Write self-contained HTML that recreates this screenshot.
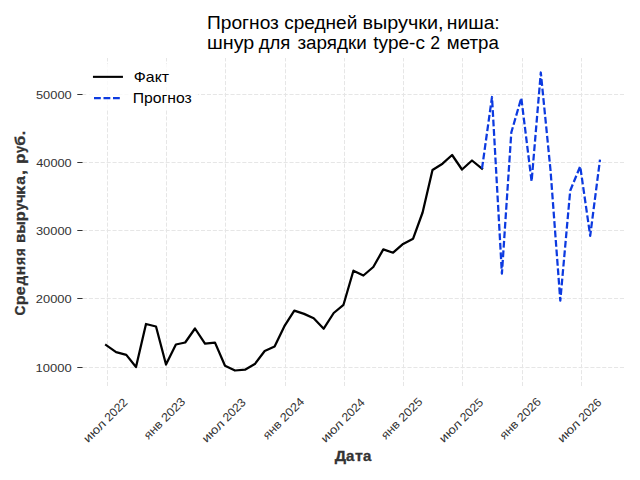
<!DOCTYPE html>
<html><head><meta charset="utf-8"><title>chart</title>
<style>
html,body{margin:0;padding:0;background:#fff;}
body{width:640px;height:480px;overflow:hidden;font-family:"Liberation Sans",sans-serif;}
svg{display:block;}
text{font-family:"Liberation Sans",sans-serif;}
.g{stroke:#e6e6e6;stroke-width:1;stroke-dasharray:4.1 1.8;fill:none;}
.tk{stroke:#333;stroke-width:1;}
.tl{font-size:11.8px;fill:#333;}
.ax{font-size:14px;font-weight:bold;fill:#333;stroke:#333;stroke-width:0.3px;}
.ti{font-size:17.6px;fill:#000;}
.lg{font-size:14.1px;fill:#000;}
</style></head><body>
<svg width="640" height="480" viewBox="0 0 640 480">
<rect width="640" height="480" fill="#fff"/>

<line class="g" x1="107.5" y1="386.0" x2="107.5" y2="58.0"/>
<line class="g" x1="166.5" y1="386.0" x2="166.5" y2="58.0"/>
<line class="g" x1="225.5" y1="386.0" x2="225.5" y2="58.0"/>
<line class="g" x1="285.5" y1="386.0" x2="285.5" y2="58.0"/>
<line class="g" x1="344.5" y1="386.0" x2="344.5" y2="58.0"/>
<line class="g" x1="403.5" y1="386.0" x2="403.5" y2="58.0"/>
<line class="g" x1="462.5" y1="386.0" x2="462.5" y2="58.0"/>
<line class="g" x1="522.5" y1="386.0" x2="522.5" y2="58.0"/>
<line class="g" x1="581.5" y1="386.0" x2="581.5" y2="58.0"/>
<line class="g" x1="83.0" y1="94.5" x2="624.4" y2="94.5"/>
<line class="g" x1="83.0" y1="162.5" x2="624.4" y2="162.5"/>
<line class="g" x1="83.0" y1="230.5" x2="624.4" y2="230.5"/>
<line class="g" x1="83.0" y1="298.5" x2="624.4" y2="298.5"/>
<line class="g" x1="83.0" y1="367.5" x2="624.4" y2="367.5"/>
<line class="tk" x1="77.3" y1="94.5" x2="82.6" y2="94.5"/>
<text class="tl" x="35.96" y="98.6" textLength="35.72" lengthAdjust="spacingAndGlyphs">50000</text>
<line class="tk" x1="77.3" y1="162.5" x2="82.6" y2="162.5"/>
<text class="tl" x="36.23" y="166.8" textLength="35.44" lengthAdjust="spacingAndGlyphs">40000</text>
<line class="tk" x1="77.3" y1="230.5" x2="82.6" y2="230.5"/>
<text class="tl" x="35.96" y="234.7" textLength="35.72" lengthAdjust="spacingAndGlyphs">30000</text>
<line class="tk" x1="77.3" y1="298.5" x2="82.6" y2="298.5"/>
<text class="tl" x="35.82" y="302.7" textLength="35.86" lengthAdjust="spacingAndGlyphs">20000</text>
<line class="tk" x1="77.3" y1="367.5" x2="82.6" y2="367.5"/>
<text class="tl" x="35.54" y="371.6" textLength="36.15" lengthAdjust="spacingAndGlyphs">10000</text>
<polyline points="106.1,345.1 116.1,352.2 126.3,354.9 136.0,367.0 146.0,324.0 156.0,326.5 166.0,364.5 175.9,344.5 185.2,342.5 195.0,328.5 205.0,343.7 215.0,342.6 225.0,365.7 235.0,370.5 245.0,369.7 254.8,364.1 264.7,351.0 274.6,346.5 284.4,326.2 294.3,310.6 304.1,313.9 313.7,318.2 323.7,328.7 333.7,313.0 343.5,304.8 353.4,270.7 363.4,275.5 373.3,267.0 383.3,249.4 393.1,252.7 403.1,243.9 413.1,238.7 422.6,212.5 432.5,170.0 442.5,163.7 452.1,155.0 462.0,169.5 472.0,160.5 482.0,168.7" fill="none" stroke="#000" stroke-width="2.25" stroke-linejoin="round" stroke-linecap="square"/>
<polyline points="482.0,168.7 492.0,97.0 501.9,273.7 511.3,132.5 521.3,98.0 531.6,181.5 540.8,72.5 550.5,170.0 560.3,300.6 570.2,190.7 580.2,166.3 590.2,235.8 600.0,159.6" fill="none" stroke="#0c3ae0" stroke-width="2.25" stroke-linejoin="round" stroke-dasharray="6.8 2.7"/>
<rect x="86" y="64" width="112" height="46" fill="#fff" fill-opacity="0.8"/>
<line x1="94.0" y1="76.85" x2="121.9" y2="76.85" stroke="#000" stroke-width="2.1" stroke-linecap="square"/>
<line x1="94.0" y1="98.0" x2="121.8" y2="98.0" stroke="#0c3ae0" stroke-width="2.25" stroke-dasharray="6.8 2.7"/>
<text class="lg" x="133.82" y="82.0" textLength="35.23" lengthAdjust="spacingAndGlyphs">Факт</text>
<text class="lg" x="132.74" y="102.8" textLength="59.01" lengthAdjust="spacingAndGlyphs">Прогноз</text>
<g class="tl" transform="translate(105.3,420.3) rotate(-45)">
<text x="-28.46" y="4.1" textLength="26.55" lengthAdjust="spacingAndGlyphs">июл</text>
<text x="1.34" y="4.1" textLength="26.98" lengthAdjust="spacingAndGlyphs">2022</text>
</g>
<g class="tl" transform="translate(164.1,418.6) rotate(-45)">
<text x="-26.20" y="4.1" textLength="21.17" lengthAdjust="spacingAndGlyphs">янв</text>
<text x="-1.57" y="4.1" textLength="28.57" lengthAdjust="spacingAndGlyphs">2023</text>
</g>
<g class="tl" transform="translate(223.7,420.3) rotate(-45)">
<text x="-28.46" y="4.1" textLength="26.55" lengthAdjust="spacingAndGlyphs">июл</text>
<text x="1.34" y="4.1" textLength="26.98" lengthAdjust="spacingAndGlyphs">2023</text>
</g>
<g class="tl" transform="translate(283.0,418.6) rotate(-45)">
<text x="-26.20" y="4.1" textLength="21.17" lengthAdjust="spacingAndGlyphs">янв</text>
<text x="-1.57" y="4.1" textLength="28.57" lengthAdjust="spacingAndGlyphs">2024</text>
</g>
<g class="tl" transform="translate(342.6,420.3) rotate(-45)">
<text x="-28.46" y="4.1" textLength="26.55" lengthAdjust="spacingAndGlyphs">июл</text>
<text x="1.34" y="4.1" textLength="26.99" lengthAdjust="spacingAndGlyphs">2024</text>
</g>
<g class="tl" transform="translate(401.4,418.6) rotate(-45)">
<text x="-26.20" y="4.1" textLength="21.17" lengthAdjust="spacingAndGlyphs">янв</text>
<text x="-1.57" y="4.1" textLength="28.57" lengthAdjust="spacingAndGlyphs">2025</text>
</g>
<g class="tl" transform="translate(461.0,420.3) rotate(-45)">
<text x="-28.46" y="4.1" textLength="26.55" lengthAdjust="spacingAndGlyphs">июл</text>
<text x="1.34" y="4.1" textLength="26.98" lengthAdjust="spacingAndGlyphs">2025</text>
</g>
<g class="tl" transform="translate(519.9,418.6) rotate(-45)">
<text x="-26.20" y="4.1" textLength="21.17" lengthAdjust="spacingAndGlyphs">янв</text>
<text x="-1.57" y="4.1" textLength="28.57" lengthAdjust="spacingAndGlyphs">2026</text>
</g>
<g class="tl" transform="translate(579.4,420.3) rotate(-45)">
<text x="-28.46" y="4.1" textLength="26.55" lengthAdjust="spacingAndGlyphs">июл</text>
<text x="1.34" y="4.1" textLength="26.98" lengthAdjust="spacingAndGlyphs">2026</text>
</g>
<text class="ti" x="207.00" y="28.8" textLength="71.90" lengthAdjust="spacingAndGlyphs">Прогноз</text>
<text class="ti" x="284.19" y="28.8" textLength="73.11" lengthAdjust="spacingAndGlyphs">средней</text>
<text class="ti" x="362.59" y="28.8" textLength="81.00" lengthAdjust="spacingAndGlyphs">выручки,</text>
<text class="ti" x="446.83" y="28.8" textLength="52.91" lengthAdjust="spacingAndGlyphs">ниша:</text>
<text class="ti" x="207.10" y="49.3" textLength="47.20" lengthAdjust="spacingAndGlyphs">шнур</text>
<text class="ti" x="258.67" y="49.3" textLength="31.58" lengthAdjust="spacingAndGlyphs">для</text>
<text class="ti" x="297.46" y="49.3" textLength="69.39" lengthAdjust="spacingAndGlyphs">зарядки</text>
<text class="ti" x="373.23" y="49.3" textLength="51.73" lengthAdjust="spacingAndGlyphs">type-c</text>
<text class="ti" x="430.32" y="49.3" textLength="9.80" lengthAdjust="spacingAndGlyphs">2</text>
<text class="ti" x="446.87" y="49.3" textLength="51.99" lengthAdjust="spacingAndGlyphs">метра</text>
<text class="ax" x="334.80" y="461.4" textLength="11.32" lengthAdjust="spacingAndGlyphs">Д</text>
<text class="ax" x="345.93" y="461.4" textLength="8.35" lengthAdjust="spacingAndGlyphs">а</text>
<text class="ax" x="354.91" y="461.4" textLength="7.85" lengthAdjust="spacingAndGlyphs">т</text>
<text class="ax" x="362.93" y="461.4" textLength="8.35" lengthAdjust="spacingAndGlyphs">а</text>
<g transform="translate(24.8,0) rotate(-90)" class="ax">
<text x="-315.62" y="0" textLength="9.97" lengthAdjust="spacingAndGlyphs">С</text>
<text x="-305.36" y="0" textLength="9.87" lengthAdjust="spacingAndGlyphs">р</text>
<text x="-295.54" y="0" textLength="9.25" lengthAdjust="spacingAndGlyphs">е</text>
<text x="-285.25" y="0" textLength="9.50" lengthAdjust="spacingAndGlyphs">д</text>
<text x="-275.37" y="0" textLength="9.41" lengthAdjust="spacingAndGlyphs">н</text>
<text x="-265.00" y="0" textLength="8.04" lengthAdjust="spacingAndGlyphs">я</text>
<text x="-255.92" y="0" textLength="7.56" lengthAdjust="spacingAndGlyphs">я</text>
<text x="-242.94" y="0" textLength="9.22" lengthAdjust="spacingAndGlyphs">в</text>
<text x="-233.60" y="0" textLength="12.26" lengthAdjust="spacingAndGlyphs">ы</text>
<text x="-221.59" y="0" textLength="10.22" lengthAdjust="spacingAndGlyphs">р</text>
<text x="-210.53" y="0" textLength="7.26" lengthAdjust="spacingAndGlyphs">у</text>
<text x="-203.01" y="0" textLength="8.88" lengthAdjust="spacingAndGlyphs">ч</text>
<text x="-195.05" y="0" textLength="9.24" lengthAdjust="spacingAndGlyphs">к</text>
<text x="-184.87" y="0" textLength="8.55" lengthAdjust="spacingAndGlyphs">а</text>
<text x="-175.05" y="0" textLength="4.91" lengthAdjust="spacingAndGlyphs">,</text>
<text x="-163.92" y="0" textLength="10.45" lengthAdjust="spacingAndGlyphs">р</text>
<text x="-152.99" y="0" textLength="7.11" lengthAdjust="spacingAndGlyphs">у</text>
<text x="-145.72" y="0" textLength="9.94" lengthAdjust="spacingAndGlyphs">б</text>
<text x="-135.24" y="0" textLength="4.34" lengthAdjust="spacingAndGlyphs">.</text>
</g>
</svg></body></html>
